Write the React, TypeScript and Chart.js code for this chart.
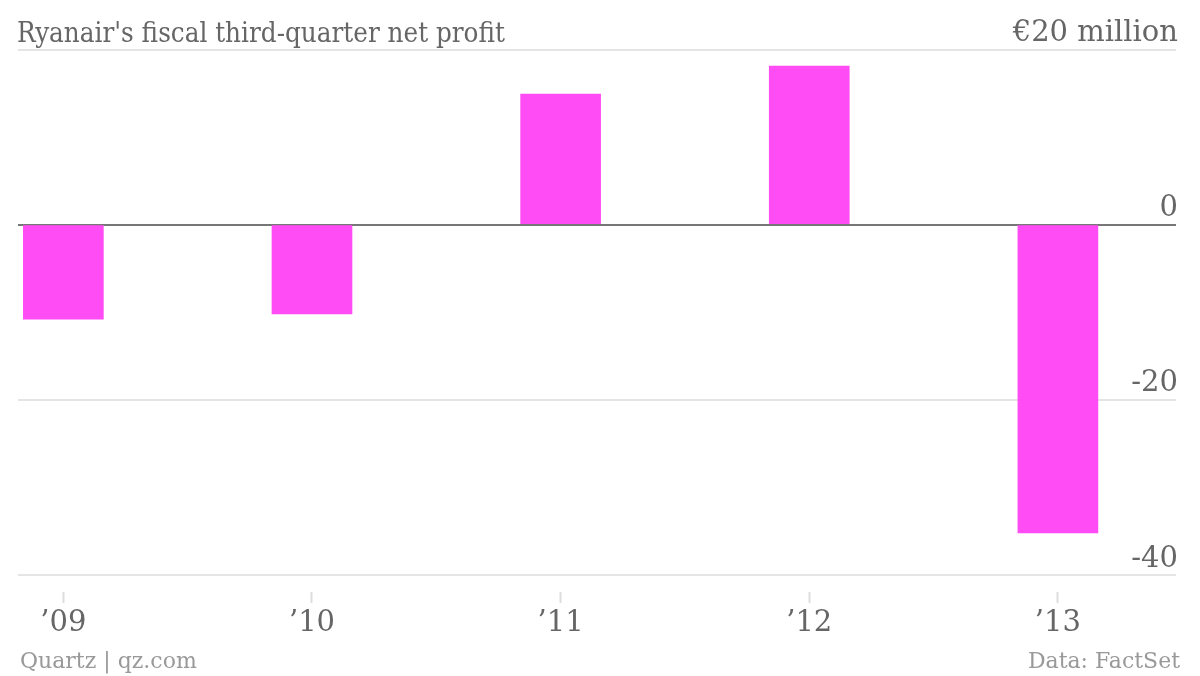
import React, { useEffect, useRef } from "react";
import { Chart, registerables } from "chart.js";

Chart.register(...registerables);

const years: number[] = [2009, 2010, 2011, 2012, 2013];
const yearLabels: string[] = ["’09", "’10", "’11", "’12", "’13"];
const netProfit: number[] = [-10.8, -10.2, 14.9, 18.1, -35.2];
const yTicks: number[] = [-40, -20, 0, 20];
const topTickLabel = "€20 million";

const TITLE = "Ryanair's fiscal third-quarter net profit";
const SOURCE_LEFT = "Quartz | qz.com";
const SOURCE_RIGHT = "Data: FactSet";

const FONT = "'DejaVu Serif', serif";

export default function App() {
  const canvasRef = useRef<HTMLCanvasElement | null>(null);

  useEffect(() => {
    const canvas = canvasRef.current;
    if (!canvas) return;
    const chart = new Chart(canvas, {
      type: "bar",
      data: {
        datasets: [
          {
            data: years.map((y, i) => ({ x: y, y: netProfit[i] })),
            backgroundColor: "#ff4cf4",
            borderWidth: 0,
            barThickness: 80,
          },
        ],
      },
      options: {
        animation: false,
        responsive: false,
        maintainAspectRatio: false,
        layout: { padding: { top: 49.5, left: 18, right: 20, bottom: 35 } },
        plugins: { legend: { display: false }, tooltip: { enabled: false } },
        scales: {
          x: {
            type: "linear",
            offset: false,
            min: 2008.8176,
            max: 2013.475,
            afterFit: (s: any) => {
              s.height = 66;
            },
            ticks: {
              stepSize: 1,
              includeBounds: false,
              padding: 3,
              color: "#666",
              font: { family: FONT, size: 29 },
              callback: (v: any) => {
                const i = years.indexOf(Number(v));
                return i >= 0 ? yearLabels[i] : "";
              },
            },
            grid: {
              offset: false,
              drawOnChartArea: false,
              drawTicks: true,
              tickLength: 28,
              tickColor: "#dddddd",
              tickWidth: 2,
              tickBorderDash: [0, 17, 11, 200],
            } as any,
            border: { display: false },
          },
          y: {
            type: "linear",
            position: "right",
            min: -40,
            max: 20,
            afterBuildTicks: (s: any) => {
              s.ticks = yTicks.map((v) => ({ value: v }));
            },
            ticks: {
              mirror: true,
              padding: 2,
              labelOffset: -16,
              color: "#666",
              font: { family: FONT, size: 29 },
              callback: (v: any) => (Number(v) === 20 ? topTickLabel : String(v)),
            },
            grid: {
              drawTicks: false,
              lineWidth: 2,
              color: (ctx: any) => (ctx.tick && ctx.tick.value === 0 ? "#777777" : "#e5e5e5"),
            },
            border: { display: false },
          },
        },
      },
    });
    return () => chart.destroy();
  }, []);

  return (
    <div style={{ position: "absolute", left: 0, top: 0, width: 1200, height: 676, background: "#fff" }}>
      <canvas ref={canvasRef} width={1200} height={676} style={{ position: "absolute", left: 0, top: 0, width: 1200, height: 676 }} />
      <div
        style={{
          position: "absolute",
          left: 17,
          top: 18.3,
          fontFamily: "'DejaVu Serif Condensed', 'DejaVu Serif', serif",
          fontSize: 27.5,
          lineHeight: "28px",
          color: "#666",
          whiteSpace: "nowrap",
        }}
      >
        {TITLE}
      </div>
      <div
        style={{
          position: "absolute",
          left: 20,
          top: 650.4,
          fontFamily: FONT,
          fontSize: 22,
          lineHeight: "22px",
          color: "#999",
          whiteSpace: "nowrap",
        }}
      >
        {SOURCE_LEFT}
      </div>
      <div
        style={{
          position: "absolute",
          right: 20,
          top: 650.4,
          fontFamily: FONT,
          fontSize: 22,
          lineHeight: "22px",
          color: "#999",
          whiteSpace: "nowrap",
        }}
      >
        {SOURCE_RIGHT}
      </div>
    </div>
  );
}
